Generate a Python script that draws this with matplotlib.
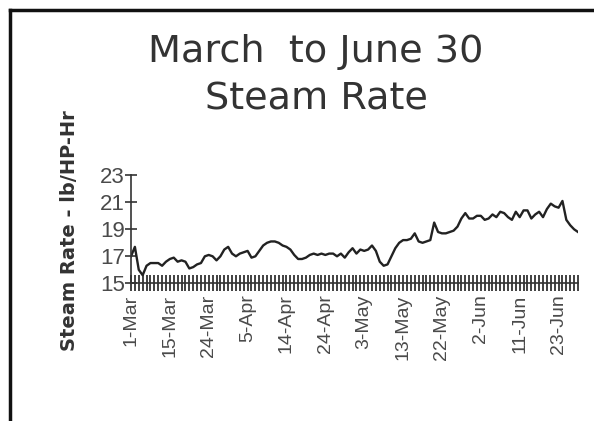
import matplotlib
matplotlib.use('Agg')
import matplotlib.pyplot as plt
from matplotlib.lines import Line2D

# steam rate, one value per category
steam = [17.0, 17.7, 16.0, 15.6, 16.3, 16.5, 16.5, 16.5, 16.3, 16.6,
         16.8, 16.9, 16.6, 16.7, 16.6, 16.1, 16.2, 16.4, 16.5, 17.0,
         17.1, 17.0, 16.7, 17.0, 17.5, 17.7, 17.2, 17.0, 17.2, 17.3,
         17.4, 16.9, 17.0, 17.4, 17.8, 18.0, 18.1, 18.1, 18.0, 17.8,
         17.7, 17.5, 17.1, 16.8, 16.8, 16.9, 17.1, 17.2, 17.1, 17.2,
         17.1, 17.2, 17.2, 17.0, 17.2, 16.9, 17.3, 17.6, 17.2, 17.5,
         17.4, 17.5, 17.8, 17.4, 16.6, 16.3, 16.4, 17.0, 17.6, 18.0,
         18.2, 18.2, 18.3, 18.7, 18.1, 18.0, 18.1, 18.2, 19.5, 18.8,
         18.7, 18.7, 18.8, 18.9, 19.2, 19.8, 20.2, 19.8, 19.8, 20.0,
         20.0, 19.7, 19.8, 20.1, 19.9, 20.3, 20.2, 19.9, 19.7, 20.3,
         19.9, 20.4, 20.4, 19.8, 20.1, 20.3, 19.9, 20.5, 20.9, 20.7,
         20.6, 21.1, 19.7, 19.3, 19.0, 18.8]
date_labels = ['1-Mar', '15-Mar', '24-Mar', '5-Apr', '14-Apr', '24-Apr',
               '3-May', '13-May', '22-May', '2-Jun', '11-Jun', '23-Jun']
label_step = 10
y_ticks = [15, 17, 19, 21, 23]

arial = ['Liberation Sans', 'DejaVu Sans']

fig = plt.figure(figsize=(5.94, 4.21), dpi=100)
ax = fig.add_axes([131/594, 1 - 283.3/421, 447/594, 108/421])

x = list(range(len(steam)))
ax.plot(x, steam, color='#222222', lw=1.7)

ax.set_xlim(0, len(steam) - 1)
ax.set_ylim(15, 23)
ax.set_yticks(y_ticks)
ax.set_yticklabels([str(v) for v in y_ticks], family=arial, fontsize=16, color='#4a4a4a')

# one tick per category, labels every 10th
ax.set_xticks(x, minor=True)
ax.set_xticks(x[::label_step])
ax.set_xticklabels(date_labels, rotation=90, family=arial, fontsize=14, color='#4a4a4a')
ax.tick_params(axis='x', which='both', direction='inout', length=12, width=1.3, color='#333333', pad=2)
ax.tick_params(axis='y', direction='inout', length=9, width=1.2, color='#333333', pad=0)

for s in ['top', 'right']:
    ax.spines[s].set_visible(False)
for s in ['left', 'bottom']:
    ax.spines[s].set_color('#333333')
    ax.spines[s].set_linewidth(1.2)

ax.set_ylabel('Steam Rate - lb/HP-Hr', fontsize=14, fontweight='bold', color='#333333')
ax.yaxis.set_label_coords(-0.116, 0.484)

fig.text(316/594, 1 - 52/421, 'March  to June 30', ha='center', va='center',
         fontsize=27.5, color='#333333', family='DejaVu Sans')
fig.text(316/594, 1 - 100/421, 'Steam Rate', ha='center', va='center',
         fontsize=27.5, color='#333333', family='DejaVu Sans')

# frame around the chart (only top and left show in the crop)
fig.add_artist(Line2D([10/594, 1], [1 - 10/421, 1 - 10/421], color='#111111', lw=2.5, transform=fig.transFigure))
fig.add_artist(Line2D([10/594, 10/594], [0, 1 - 10/421], color='#111111', lw=2.5, transform=fig.transFigure))

fig.savefig('out.png', dpi=100)
